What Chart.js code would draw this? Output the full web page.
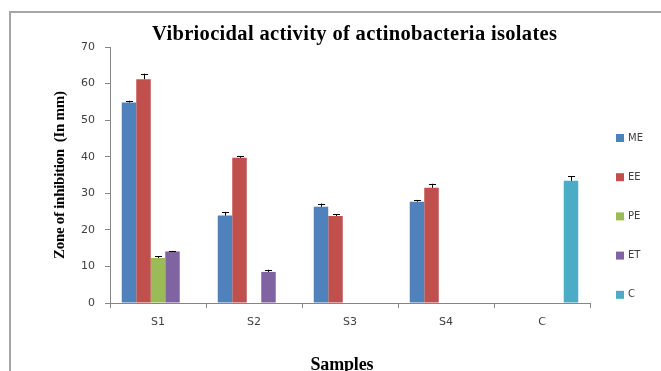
<!DOCTYPE html>
<html>
<head>
<meta charset="utf-8">
<script src="https://cdn.jsdelivr.net/npm/chart.js@4.4.1/dist/chart.umd.min.js"></script>
<style>
  html, body { margin: 0; padding: 0; background: #fff; }
  #wrap { position: relative; width: 661px; height: 371px; overflow: hidden; }
  #frame { position: absolute; left: 9px; top: 11px; width: 660px; height: 370px;
           border-left: 2px solid #a6a6a6; border-top: 2px solid #a6a6a6; }
  canvas { position: absolute; left: 0; top: 0; }
</style>
</head>
<body>
<div id="wrap">
  <div id="frame"></div>
  <canvas id="c" width="661" height="371"></canvas>
</div>
<script>
const categories = ['S1', 'S2', 'S3', 'S4', 'C'];
const seriesNames = ['ME', 'EE', 'PE', 'ET', 'C'];
const seriesColors = ['#4F81BD', '#C0504D', '#9BBB59', '#8064A2', '#4BACC6'];

const ME = [54.8, 23.9, 26.3, 27.7, null];
const EE = [61.2, 39.7, 23.8, 31.5, null];
const PE = [12.3, null, null, null, null];
const ET = [14.1, 8.5, null, null, null];
const CC = [null, null, null, null, 33.4];

const ME_err = [0.5, 1.0, 0.9, 0.5, 0];
const EE_err = [1.5, 0.5, 0.5, 1.1, 0];
const PE_err = [0.5, 0, 0, 0, 0];
const ET_err = [0.15, 0.6, 0, 0, 0];
const CC_err = [0, 0, 0, 0, 1.2];

const yTicks = [0, 10, 20, 30, 40, 50, 60, 70];

const chartTitle = 'Vibriocidal activity of actinobacteria isolates';
const xTitle = 'Samples';
const yTitle = 'Zone of inhibition  (In mm)';

const values = [ME, EE, PE, ET, CC];
const errors = [ME_err, EE_err, PE_err, ET_err, CC_err];

const errorBarPlugin = {
  id: 'errorBars',
  afterDatasetsDraw(chart) {
    const ctx = chart.ctx;
    const y = chart.scales.y;
    ctx.save();
    ctx.strokeStyle = '#000';
    ctx.lineWidth = 1;
    chart.data.datasets.forEach((ds, di) => {
      const meta = chart.getDatasetMeta(di);
      meta.data.forEach((bar, i) => {
        const v = ds.data[i];
        const e = ds.errors[i];
        if (v == null || !e) return;
        const x = Math.round(bar.x) + 0.5;
        const y0 = y.getPixelForValue(v);
        const y1 = y.getPixelForValue(v + e);
        ctx.beginPath();
        ctx.moveTo(x, y0);
        ctx.lineTo(x, y1);
        ctx.moveTo(x - 3.5, Math.round(y1) + 0.5);
        ctx.lineTo(x + 3.5, Math.round(y1) + 0.5);
        ctx.stroke();
      });
    });
    ctx.restore();
  }
};

function spacedText(ctx, text, x, y, targetWidth) {
  ctx.letterSpacing = '0px';
  const w = ctx.measureText(text).width;
  const sp = (targetWidth - w) / Math.max(1, text.length - 1);
  ctx.letterSpacing = sp.toFixed(2) + 'px';
  const w2 = ctx.measureText(text).width - sp;
  ctx.textAlign = 'left';
  ctx.fillText(text, x - w2 / 2, y);
  ctx.letterSpacing = '0px';
}

const textPlugin = {
  id: 'texts',
  afterDraw(chart) {
    const ctx = chart.ctx;
    const a = chart.chartArea;
    ctx.save();
    ctx.fillStyle = '#000';
    ctx.textBaseline = 'alphabetic';
    ctx.font = 'bold 20.5px "Liberation Serif"';
    spacedText(ctx, chartTitle, 354.5, 40, 405);
    ctx.font = 'bold 18px "Liberation Serif"';
    spacedText(ctx, xTitle, 342, 370, 63);
    ctx.translate(60, (a.top + a.bottom) / 2);
    ctx.rotate(-Math.PI / 2);
    ctx.textBaseline = 'middle';
    ctx.font = 'bold 15px "Liberation Serif"';
    spacedText(ctx, yTitle, 0, 0, 168);
    ctx.restore();

    // legend
    ctx.save();
    ctx.font = '10px "DejaVu Sans"';
    ctx.textBaseline = 'middle';
    ctx.textAlign = 'left';
    const x0 = 616, yStart = 138, step = 39.2;
    chart.data.datasets.forEach((ds, i) => {
      const yy = yStart + i * step;
      ctx.fillStyle = ds.backgroundColor;
      ctx.fillRect(x0, yy - 4, 8, 8);
      ctx.fillStyle = '#404040';
      ctx.fillText(ds.label, x0 + 12, yy);
    });
    ctx.restore();
  }
};

new Chart(document.getElementById('c'), {
  type: 'bar',
  data: {
    labels: categories,
    datasets: seriesNames.map((n, i) => ({
      label: n,
      data: values[i],
      errors: errors[i],
      backgroundColor: seriesColors[i],
      borderWidth: 0,
      categoryPercentage: 0.755,
      barPercentage: 1.0
    }))
  },
  plugins: [errorBarPlugin, textPlugin],
  options: {
    responsive: false,
    animation: false,
    layout: { padding: { left: 70, right: 71, top: 47, bottom: 0 } },
    plugins: {
      legend: { display: false },
      tooltip: { enabled: false },
      title: { display: false }
    },
    scales: {
      x: {
        afterFit(scale) { scale.height = 68; },
        grid: { offset: true, drawOnChartArea: false, drawTicks: true, tickLength: 5, color: '#868686' },
        border: { color: '#868686' },
        ticks: { color: '#404040', font: { family: '"DejaVu Sans"', size: 11 }, padding: 8 }
      },
      y: {
        min: 0, max: 70,
        afterFit(scale) { scale.width = 40; },
        afterBuildTicks(scale) { scale.ticks = yTicks.map(v => ({ value: v })); },
        grid: { drawOnChartArea: false, drawTicks: true, tickLength: 5, color: '#868686' },
        border: { color: '#868686' },
        ticks: { color: '#404040', font: { family: '"DejaVu Sans"', size: 11 }, padding: 10 }
      }
    }
  }
});
</script>
</body>
</html>
